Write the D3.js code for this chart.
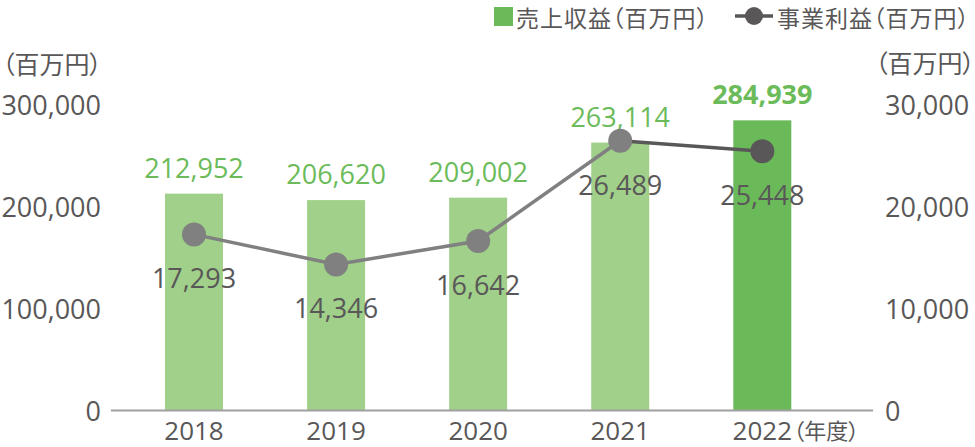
<!DOCTYPE html>
<html>
<head>
<meta charset="utf-8">
<script src="https://cdn.jsdelivr.net/npm/d3@7"></script>
<style>
  body { margin: 0; background: #fff; }
  svg text { font-family: "Open Sans", "Noto Sans CJK JP", sans-serif; }
  svg text.jp { font-family: "Noto Sans CJK JP", sans-serif; font-feature-settings: "palt"; }
</style>
</head>
<body>
<svg id="chart" width="975" height="447"></svg>
<script>
// ----- data -----
var years = ['2018', '2019', '2020', '2021', '2022'];
var revenue = [212952, 206620, 209002, 263114, 284939];
var profit = [17293, 14346, 16642, 26489, 25448];
var leftTicks = [0, 100000, 200000, 300000];
var rightTicks = [0, 10000, 20000, 30000];

var grey = '#595757';
var lineGrey = '#808080';
var lightGreen = '#a0d08a';
var green = '#6bba5a';
var labelGreen = '#6cbb5a';

var svg = d3.select('#chart');
var fmt = d3.format(',');

// scales
var x = d3.scalePoint().domain(years).range([194, 762.3]);
var yL = d3.scaleLinear().domain([0, 300000]).range([410.5, 105]);
var yR = d3.scaleLinear().domain([0, 30000]).range([410.5, 105]);
var barW = 58;

// bars
svg.selectAll('rect.bar')
   .data(years)
   .enter().append('rect')
   .attr('class', 'bar')
   .attr('x', function(d) { return x(d) - barW / 2; })
   .attr('y', function(d, i) { return yL(revenue[i]); })
   .attr('width', barW)
   .attr('height', function(d, i) { return yL(0) - yL(revenue[i]); })
   .attr('fill', function(d, i) { return i === years.length - 1 ? green : lightGreen; });

// baseline
svg.append('line')
   .attr('x1', 111).attr('x2', 873)
   .attr('y1', yL(0)).attr('y2', yL(0))
   .attr('stroke', '#a0a0a0').attr('stroke-width', 2);

// left axis labels
svg.selectAll('text.left')
   .data(leftTicks)
   .enter().append('text')
   .attr('class', 'left')
   .attr('x', 101)
   .attr('y', function(d) { return yL(d) + 10; })
   .attr('text-anchor', 'end')
   .attr('font-size', 27)
   .attr('fill', grey)
   .text(fmt);

// right axis labels
svg.selectAll('text.right')
   .data(rightTicks)
   .enter().append('text')
   .attr('class', 'right')
   .attr('x', 885)
   .attr('y', function(d) { return yR(d) + 10; })
   .attr('font-size', 27)
   .attr('fill', grey)
   .text(fmt);

// units
svg.append('text').attr('class', 'jp').attr('x', 2).attr('y', 74)
   .attr('font-size', 25).attr('fill', grey).text('（百万円）');
svg.append('text').attr('class', 'jp').attr('x', 975).attr('y', 73)
   .attr('text-anchor', 'end')
   .attr('font-size', 25).attr('fill', grey).text('（百万円）');

// x labels
svg.selectAll('text.year')
   .data(years)
   .enter().append('text')
   .attr('class', 'year')
   .attr('x', function(d) { return x(d); })
   .attr('y', 440)
   .attr('text-anchor', 'middle')
   .attr('font-size', 26)
   .attr('fill', grey)
   .text(function(d) { return d; });
svg.append('text')
   .attr('class', 'jp')
   .attr('x', x('2022') + 31).attr('y', 439)
   .attr('font-size', 22).attr('fill', grey)
   .text('（年度）');

// revenue labels
svg.selectAll('text.rev')
   .data(revenue)
   .enter().append('text')
   .attr('class', 'rev')
   .attr('x', function(d, i) { return x(years[i]); })
   .attr('y', function(d) { return yL(d) - 16; })
   .attr('text-anchor', 'middle')
   .attr('font-size', 27)
   .attr('font-weight', function(d, i) { return i === years.length - 1 ? 'bold' : 'normal'; })
   .attr('fill', labelGreen)
   .text(fmt);

// profit line, last segment darker
var pts = years.map(function(d, i) { return [x(d), yR(profit[i])]; });
svg.append('path')
   .attr('d', d3.line()(pts.slice(0, 4)))
   .attr('fill', 'none')
   .attr('stroke', lineGrey)
   .attr('stroke-width', 3.5);
svg.append('path')
   .attr('d', d3.line()(pts.slice(3)))
   .attr('fill', 'none')
   .attr('stroke', grey)
   .attr('stroke-width', 3.5);

svg.selectAll('circle.dot')
   .data(profit)
   .enter().append('circle')
   .attr('class', 'dot')
   .attr('cx', function(d, i) { return x(years[i]); })
   .attr('cy', function(d) { return yR(d); })
   .attr('r', 12)
   .attr('fill', function(d, i) { return i === years.length - 1 ? grey : lineGrey; });

svg.selectAll('text.prof')
   .data(profit)
   .enter().append('text')
   .attr('class', 'prof')
   .attr('x', function(d, i) { return x(years[i]); })
   .attr('y', function(d) { return yR(d) + 54; })
   .attr('text-anchor', 'middle')
   .attr('font-size', 27)
   .attr('fill', grey)
   .text(fmt);

// legend
var lg = svg.append('g');
lg.append('rect').attr('x', 494).attr('y', 7).attr('width', 19).attr('height', 19).attr('fill', green);
lg.append('text').attr('class', 'jp').attr('x', 516).attr('y', 27)
  .attr('font-size', 23).attr('letter-spacing', 1).attr('fill', grey).text('売上収益（百万円）');
lg.append('line').attr('x1', 735).attr('x2', 773).attr('y1', 16).attr('y2', 16)
  .attr('stroke', grey).attr('stroke-width', 3.5);
lg.append('circle').attr('cx', 754).attr('cy', 16).attr('r', 9).attr('fill', grey);
lg.append('text').attr('class', 'jp').attr('x', 777).attr('y', 27)
  .attr('font-size', 23).attr('letter-spacing', 1).attr('fill', grey).text('事業利益（百万円）');
</script>
</body>
</html>
